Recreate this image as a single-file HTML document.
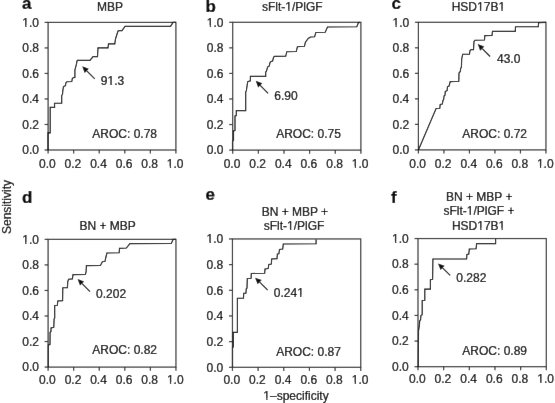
<!DOCTYPE html>
<html><head><meta charset="utf-8"><style>
html,body{margin:0;padding:0;background:#fff;}
svg{display:block;}
#w{width:555px;height:403px;}
text{font-family:"Liberation Sans",sans-serif;fill:#000;stroke:#000;stroke-width:0.22px;}
</style></head><body>
<div id="w"><svg width="555" height="403" viewBox="0 0 555 403">
<defs><filter id="bl" x="0" y="0" width="555" height="403" filterUnits="userSpaceOnUse"><feConvolveMatrix order="3" kernelMatrix="0.00163 0.03713 0.00163 0.03713 0.84497 0.03713 0.00163 0.03713 0.00163" divisor="1" edgeMode="duplicate" preserveAlpha="true"/></filter></defs>
<g filter="url(#bl)">
<rect x="0" y="0" width="555" height="403" fill="#fff"/>
<rect x="48.1" y="22.4" width="127.80" height="127.60" fill="none" stroke="#333" stroke-width="1.2"/>
<line x1="44.6" y1="150.0" x2="48.1" y2="150.0" stroke="#333" stroke-width="1.2"/>
<line x1="48.1" y1="150.0" x2="48.1" y2="153.6" stroke="#333" stroke-width="1.2"/>
<text x="38.900000000000006" y="154.3" font-size="12" text-anchor="end" font-weight="normal" >0.0</text>
<text x="47.4" y="167.6" font-size="12" text-anchor="middle" font-weight="normal" >0.0</text>
<line x1="44.6" y1="124.48" x2="48.1" y2="124.48" stroke="#333" stroke-width="1.2"/>
<line x1="73.66" y1="150.0" x2="73.66" y2="153.6" stroke="#333" stroke-width="1.2"/>
<text x="38.900000000000006" y="128.78" font-size="12" text-anchor="end" font-weight="normal" >0.2</text>
<text x="72.96" y="167.6" font-size="12" text-anchor="middle" font-weight="normal" >0.2</text>
<line x1="44.6" y1="98.96000000000001" x2="48.1" y2="98.96000000000001" stroke="#333" stroke-width="1.2"/>
<line x1="99.22" y1="150.0" x2="99.22" y2="153.6" stroke="#333" stroke-width="1.2"/>
<text x="38.900000000000006" y="103.26" font-size="12" text-anchor="end" font-weight="normal" >0.4</text>
<text x="98.52" y="167.6" font-size="12" text-anchor="middle" font-weight="normal" >0.4</text>
<line x1="44.6" y1="73.44000000000001" x2="48.1" y2="73.44000000000001" stroke="#333" stroke-width="1.2"/>
<line x1="124.78" y1="150.0" x2="124.78" y2="153.6" stroke="#333" stroke-width="1.2"/>
<text x="38.900000000000006" y="77.74000000000001" font-size="12" text-anchor="end" font-weight="normal" >0.6</text>
<text x="124.08" y="167.6" font-size="12" text-anchor="middle" font-weight="normal" >0.6</text>
<line x1="44.6" y1="47.92" x2="48.1" y2="47.92" stroke="#333" stroke-width="1.2"/>
<line x1="150.34" y1="150.0" x2="150.34" y2="153.6" stroke="#333" stroke-width="1.2"/>
<text x="38.900000000000006" y="52.22" font-size="12" text-anchor="end" font-weight="normal" >0.8</text>
<text x="149.64000000000001" y="167.6" font-size="12" text-anchor="middle" font-weight="normal" >0.8</text>
<line x1="44.6" y1="22.400000000000006" x2="48.1" y2="22.400000000000006" stroke="#333" stroke-width="1.2"/>
<line x1="175.9" y1="150.0" x2="175.9" y2="153.6" stroke="#333" stroke-width="1.2"/>
<text x="38.900000000000006" y="26.700000000000006" font-size="12" text-anchor="end" font-weight="normal" >1.0</text>
<text x="175.20000000000002" y="167.6" font-size="12" text-anchor="middle" font-weight="normal" >1.0</text>
<rect x="232.7" y="22.3" width="128.20" height="127.80" fill="none" stroke="#333" stroke-width="1.2"/>
<line x1="229.2" y1="150.1" x2="232.7" y2="150.1" stroke="#333" stroke-width="1.2"/>
<line x1="232.7" y1="150.1" x2="232.7" y2="153.7" stroke="#333" stroke-width="1.2"/>
<text x="223.5" y="154.4" font-size="12" text-anchor="end" font-weight="normal" >0.0</text>
<text x="232.0" y="167.7" font-size="12" text-anchor="middle" font-weight="normal" >0.0</text>
<line x1="229.2" y1="124.53999999999999" x2="232.7" y2="124.53999999999999" stroke="#333" stroke-width="1.2"/>
<line x1="258.34" y1="150.1" x2="258.34" y2="153.7" stroke="#333" stroke-width="1.2"/>
<text x="223.5" y="128.84" font-size="12" text-anchor="end" font-weight="normal" >0.2</text>
<text x="257.64" y="167.7" font-size="12" text-anchor="middle" font-weight="normal" >0.2</text>
<line x1="229.2" y1="98.97999999999999" x2="232.7" y2="98.97999999999999" stroke="#333" stroke-width="1.2"/>
<line x1="283.98" y1="150.1" x2="283.98" y2="153.7" stroke="#333" stroke-width="1.2"/>
<text x="223.5" y="103.27999999999999" font-size="12" text-anchor="end" font-weight="normal" >0.4</text>
<text x="283.28000000000003" y="167.7" font-size="12" text-anchor="middle" font-weight="normal" >0.4</text>
<line x1="229.2" y1="73.42" x2="232.7" y2="73.42" stroke="#333" stroke-width="1.2"/>
<line x1="309.62" y1="150.1" x2="309.62" y2="153.7" stroke="#333" stroke-width="1.2"/>
<text x="223.5" y="77.72" font-size="12" text-anchor="end" font-weight="normal" >0.6</text>
<text x="308.92" y="167.7" font-size="12" text-anchor="middle" font-weight="normal" >0.6</text>
<line x1="229.2" y1="47.859999999999985" x2="232.7" y2="47.859999999999985" stroke="#333" stroke-width="1.2"/>
<line x1="335.26" y1="150.1" x2="335.26" y2="153.7" stroke="#333" stroke-width="1.2"/>
<text x="223.5" y="52.15999999999998" font-size="12" text-anchor="end" font-weight="normal" >0.8</text>
<text x="334.56" y="167.7" font-size="12" text-anchor="middle" font-weight="normal" >0.8</text>
<line x1="229.2" y1="22.299999999999997" x2="232.7" y2="22.299999999999997" stroke="#333" stroke-width="1.2"/>
<line x1="360.9" y1="150.1" x2="360.9" y2="153.7" stroke="#333" stroke-width="1.2"/>
<text x="223.5" y="26.599999999999998" font-size="12" text-anchor="end" font-weight="normal" >1.0</text>
<text x="360.2" y="167.7" font-size="12" text-anchor="middle" font-weight="normal" >1.0</text>
<rect x="418.4" y="22.3" width="127.55" height="127.60" fill="none" stroke="#333" stroke-width="1.2"/>
<line x1="414.9" y1="149.9" x2="418.4" y2="149.9" stroke="#333" stroke-width="1.2"/>
<line x1="418.4" y1="149.9" x2="418.4" y2="153.5" stroke="#333" stroke-width="1.2"/>
<text x="409.2" y="154.20000000000002" font-size="12" text-anchor="end" font-weight="normal" >0.0</text>
<text x="417.7" y="167.5" font-size="12" text-anchor="middle" font-weight="normal" >0.0</text>
<line x1="414.9" y1="124.38" x2="418.4" y2="124.38" stroke="#333" stroke-width="1.2"/>
<line x1="443.90999999999997" y1="149.9" x2="443.90999999999997" y2="153.5" stroke="#333" stroke-width="1.2"/>
<text x="409.2" y="128.68" font-size="12" text-anchor="end" font-weight="normal" >0.2</text>
<text x="443.21" y="167.5" font-size="12" text-anchor="middle" font-weight="normal" >0.2</text>
<line x1="414.9" y1="98.86" x2="418.4" y2="98.86" stroke="#333" stroke-width="1.2"/>
<line x1="469.42" y1="149.9" x2="469.42" y2="153.5" stroke="#333" stroke-width="1.2"/>
<text x="409.2" y="103.16" font-size="12" text-anchor="end" font-weight="normal" >0.4</text>
<text x="468.72" y="167.5" font-size="12" text-anchor="middle" font-weight="normal" >0.4</text>
<line x1="414.9" y1="73.34" x2="418.4" y2="73.34" stroke="#333" stroke-width="1.2"/>
<line x1="494.93" y1="149.9" x2="494.93" y2="153.5" stroke="#333" stroke-width="1.2"/>
<text x="409.2" y="77.64" font-size="12" text-anchor="end" font-weight="normal" >0.6</text>
<text x="494.23" y="167.5" font-size="12" text-anchor="middle" font-weight="normal" >0.6</text>
<line x1="414.9" y1="47.81999999999999" x2="418.4" y2="47.81999999999999" stroke="#333" stroke-width="1.2"/>
<line x1="520.44" y1="149.9" x2="520.44" y2="153.5" stroke="#333" stroke-width="1.2"/>
<text x="409.2" y="52.11999999999999" font-size="12" text-anchor="end" font-weight="normal" >0.8</text>
<text x="519.74" y="167.5" font-size="12" text-anchor="middle" font-weight="normal" >0.8</text>
<line x1="414.9" y1="22.299999999999997" x2="418.4" y2="22.299999999999997" stroke="#333" stroke-width="1.2"/>
<line x1="545.95" y1="149.9" x2="545.95" y2="153.5" stroke="#333" stroke-width="1.2"/>
<text x="409.2" y="26.599999999999998" font-size="12" text-anchor="end" font-weight="normal" >1.0</text>
<text x="545.25" y="167.5" font-size="12" text-anchor="middle" font-weight="normal" >1.0</text>
<rect x="48.1" y="239.35" width="127.85" height="127.75" fill="none" stroke="#333" stroke-width="1.2"/>
<line x1="44.6" y1="367.1" x2="48.1" y2="367.1" stroke="#333" stroke-width="1.2"/>
<line x1="48.1" y1="367.1" x2="48.1" y2="370.70000000000005" stroke="#333" stroke-width="1.2"/>
<text x="38.900000000000006" y="371.40000000000003" font-size="12" text-anchor="end" font-weight="normal" >0.0</text>
<text x="47.4" y="383.5" font-size="12" text-anchor="middle" font-weight="normal" >0.0</text>
<line x1="44.6" y1="341.55" x2="48.1" y2="341.55" stroke="#333" stroke-width="1.2"/>
<line x1="73.67" y1="367.1" x2="73.67" y2="370.70000000000005" stroke="#333" stroke-width="1.2"/>
<text x="38.900000000000006" y="345.85" font-size="12" text-anchor="end" font-weight="normal" >0.2</text>
<text x="72.97" y="383.5" font-size="12" text-anchor="middle" font-weight="normal" >0.2</text>
<line x1="44.6" y1="316.0" x2="48.1" y2="316.0" stroke="#333" stroke-width="1.2"/>
<line x1="99.24000000000001" y1="367.1" x2="99.24000000000001" y2="370.70000000000005" stroke="#333" stroke-width="1.2"/>
<text x="38.900000000000006" y="320.3" font-size="12" text-anchor="end" font-weight="normal" >0.4</text>
<text x="98.54" y="383.5" font-size="12" text-anchor="middle" font-weight="normal" >0.4</text>
<line x1="44.6" y1="290.45" x2="48.1" y2="290.45" stroke="#333" stroke-width="1.2"/>
<line x1="124.81" y1="367.1" x2="124.81" y2="370.70000000000005" stroke="#333" stroke-width="1.2"/>
<text x="38.900000000000006" y="294.75" font-size="12" text-anchor="end" font-weight="normal" >0.6</text>
<text x="124.11" y="383.5" font-size="12" text-anchor="middle" font-weight="normal" >0.6</text>
<line x1="44.6" y1="264.9" x2="48.1" y2="264.9" stroke="#333" stroke-width="1.2"/>
<line x1="150.38" y1="367.1" x2="150.38" y2="370.70000000000005" stroke="#333" stroke-width="1.2"/>
<text x="38.900000000000006" y="269.2" font-size="12" text-anchor="end" font-weight="normal" >0.8</text>
<text x="149.68" y="383.5" font-size="12" text-anchor="middle" font-weight="normal" >0.8</text>
<line x1="44.6" y1="239.35" x2="48.1" y2="239.35" stroke="#333" stroke-width="1.2"/>
<line x1="175.95" y1="367.1" x2="175.95" y2="370.70000000000005" stroke="#333" stroke-width="1.2"/>
<text x="38.900000000000006" y="243.65" font-size="12" text-anchor="end" font-weight="normal" >1.0</text>
<text x="175.25" y="383.5" font-size="12" text-anchor="middle" font-weight="normal" >1.0</text>
<rect x="232.45" y="238.95" width="128.30" height="128.35" fill="none" stroke="#333" stroke-width="1.2"/>
<line x1="228.95" y1="367.3" x2="232.45" y2="367.3" stroke="#333" stroke-width="1.2"/>
<line x1="232.45" y1="367.3" x2="232.45" y2="370.90000000000003" stroke="#333" stroke-width="1.2"/>
<text x="223.25" y="371.6" font-size="12" text-anchor="end" font-weight="normal" >0.0</text>
<text x="231.75" y="383.7" font-size="12" text-anchor="middle" font-weight="normal" >0.0</text>
<line x1="228.95" y1="341.63" x2="232.45" y2="341.63" stroke="#333" stroke-width="1.2"/>
<line x1="258.11" y1="367.3" x2="258.11" y2="370.90000000000003" stroke="#333" stroke-width="1.2"/>
<text x="223.25" y="345.93" font-size="12" text-anchor="end" font-weight="normal" >0.2</text>
<text x="257.41" y="383.7" font-size="12" text-anchor="middle" font-weight="normal" >0.2</text>
<line x1="228.95" y1="315.96" x2="232.45" y2="315.96" stroke="#333" stroke-width="1.2"/>
<line x1="283.77" y1="367.3" x2="283.77" y2="370.90000000000003" stroke="#333" stroke-width="1.2"/>
<text x="223.25" y="320.26" font-size="12" text-anchor="end" font-weight="normal" >0.4</text>
<text x="283.07" y="383.7" font-size="12" text-anchor="middle" font-weight="normal" >0.4</text>
<line x1="228.95" y1="290.29" x2="232.45" y2="290.29" stroke="#333" stroke-width="1.2"/>
<line x1="309.43" y1="367.3" x2="309.43" y2="370.90000000000003" stroke="#333" stroke-width="1.2"/>
<text x="223.25" y="294.59000000000003" font-size="12" text-anchor="end" font-weight="normal" >0.6</text>
<text x="308.73" y="383.7" font-size="12" text-anchor="middle" font-weight="normal" >0.6</text>
<line x1="228.95" y1="264.62" x2="232.45" y2="264.62" stroke="#333" stroke-width="1.2"/>
<line x1="335.09000000000003" y1="367.3" x2="335.09000000000003" y2="370.90000000000003" stroke="#333" stroke-width="1.2"/>
<text x="223.25" y="268.92" font-size="12" text-anchor="end" font-weight="normal" >0.8</text>
<text x="334.39000000000004" y="383.7" font-size="12" text-anchor="middle" font-weight="normal" >0.8</text>
<line x1="228.95" y1="238.95" x2="232.45" y2="238.95" stroke="#333" stroke-width="1.2"/>
<line x1="360.75" y1="367.3" x2="360.75" y2="370.90000000000003" stroke="#333" stroke-width="1.2"/>
<text x="223.25" y="243.25" font-size="12" text-anchor="end" font-weight="normal" >1.0</text>
<text x="360.05" y="383.7" font-size="12" text-anchor="middle" font-weight="normal" >1.0</text>
<rect x="418.0" y="238.55" width="128.30" height="128.15" fill="none" stroke="#333" stroke-width="1.2"/>
<line x1="414.5" y1="366.7" x2="418.0" y2="366.7" stroke="#333" stroke-width="1.2"/>
<line x1="418.0" y1="366.7" x2="418.0" y2="370.3" stroke="#333" stroke-width="1.2"/>
<text x="408.8" y="371.0" font-size="12" text-anchor="end" font-weight="normal" >0.0</text>
<text x="417.3" y="383.09999999999997" font-size="12" text-anchor="middle" font-weight="normal" >0.0</text>
<line x1="414.5" y1="341.07" x2="418.0" y2="341.07" stroke="#333" stroke-width="1.2"/>
<line x1="443.65999999999997" y1="366.7" x2="443.65999999999997" y2="370.3" stroke="#333" stroke-width="1.2"/>
<text x="408.8" y="345.37" font-size="12" text-anchor="end" font-weight="normal" >0.2</text>
<text x="442.96" y="383.09999999999997" font-size="12" text-anchor="middle" font-weight="normal" >0.2</text>
<line x1="414.5" y1="315.44" x2="418.0" y2="315.44" stroke="#333" stroke-width="1.2"/>
<line x1="469.32" y1="366.7" x2="469.32" y2="370.3" stroke="#333" stroke-width="1.2"/>
<text x="408.8" y="319.74" font-size="12" text-anchor="end" font-weight="normal" >0.4</text>
<text x="468.62" y="383.09999999999997" font-size="12" text-anchor="middle" font-weight="normal" >0.4</text>
<line x1="414.5" y1="289.81" x2="418.0" y2="289.81" stroke="#333" stroke-width="1.2"/>
<line x1="494.97999999999996" y1="366.7" x2="494.97999999999996" y2="370.3" stroke="#333" stroke-width="1.2"/>
<text x="408.8" y="294.11" font-size="12" text-anchor="end" font-weight="normal" >0.6</text>
<text x="494.28" y="383.09999999999997" font-size="12" text-anchor="middle" font-weight="normal" >0.6</text>
<line x1="414.5" y1="264.18" x2="418.0" y2="264.18" stroke="#333" stroke-width="1.2"/>
<line x1="520.64" y1="366.7" x2="520.64" y2="370.3" stroke="#333" stroke-width="1.2"/>
<text x="408.8" y="268.48" font-size="12" text-anchor="end" font-weight="normal" >0.8</text>
<text x="519.9399999999999" y="383.09999999999997" font-size="12" text-anchor="middle" font-weight="normal" >0.8</text>
<line x1="414.5" y1="238.55" x2="418.0" y2="238.55" stroke="#333" stroke-width="1.2"/>
<line x1="546.3" y1="366.7" x2="546.3" y2="370.3" stroke="#333" stroke-width="1.2"/>
<text x="408.8" y="242.85000000000002" font-size="12" text-anchor="end" font-weight="normal" >1.0</text>
<text x="545.5999999999999" y="383.09999999999997" font-size="12" text-anchor="middle" font-weight="normal" >1.0</text>
<polyline points="48,150 48,132.9 50.2,132.9 50.2,107.4 54.6,107.4 54.5,103.2 61.7,103.2 61.7,95.4 62.5,94.4 62.8,91 63.4,87 64.3,86 65.4,85.8 66,82.5 66.8,81.7 71.8,81.5 72.3,78.5 73.3,77.6 74.9,77.5 74.9,69.8 75.2,68.8 76.4,64.3 76.9,61.3 77.4,60.4 90,60.4 93,56.6 97.5,56.6 98,47.8 108,47.8 108.5,43.8 114.8,43.8 115.5,39 118,31 119.5,30.6 122,30.6 125,26.4 170.6,26.4 173,22.4 176,22.4" fill="none" stroke="#000" stroke-width="1.15" stroke-linejoin="miter"/>
<polyline points="232.5,150 232.5,141 233.5,140.5 233.5,131 235,130.5 235,116 236.3,115.5 236.3,110.6 245.7,110.6 245.7,91.7 246.3,91 247.7,81.6 250.4,80.9 250.4,76.4 265.7,76.4 265.7,72 266.4,71.2 267.5,67.5 268.1,66.5 269.1,66.2 270.1,62.3 271,61.5 272.6,61 273.6,57.2 274.6,56.4 285.7,56.3 286.8,51.7 296.3,51.5 297.4,46.7 304.5,46.3 305.3,42.5 308.2,38.4 310.5,37 314.6,36.8 315.8,32.5 325.2,32.3 327.5,27 356.8,26.7 358.5,22.6 360,22.4" fill="none" stroke="#000" stroke-width="1.15" stroke-linejoin="miter"/>
<polyline points="418.4,150 436.1,108.5 439.8,108.2 440.2,104.4 442.3,104 443,100.3 443.6,99.8 444.1,95.8 445,95.2 445.3,91.4 447.1,90.7 447.5,86.6 449.1,86 450.2,81.6 458.8,81.3 459,73 460.3,71.5 460.7,68.2 461.4,67.5 461.7,59 462.7,54.2 469.5,54.1 470,50.5 471.1,49.6 473.5,49.6 474,41.5 474.9,40.2 484.5,40 484.8,35.6 492,35.4 492.5,31.3 515.3,31.3 515.5,26.7 538.3,26.6 538.6,22.6 546,22.4" fill="none" stroke="#000" stroke-width="1.15" stroke-linejoin="miter"/>
<polyline points="48.3,367 48.3,345 50,344.5 50.1,332.3 51,331.4 51,328 53.8,327.2 54.1,319 54.7,318 54.7,305.5 57.4,305.2 57.7,301 62.6,300.6 62.8,287.7 67.4,287.6 67.8,281.4 68.6,279.2 72.4,278.9 73,274.6 85.4,274.4 86.1,271.7 86.4,265.6 100.4,265.5 102.4,261.8 105,261.3 105.7,258 106.9,253 119.2,252.7 119.5,248.4 126.4,248 129.9,243.6 171.3,243.4 173.1,239.4 176,239.4" fill="none" stroke="#000" stroke-width="1.15" stroke-linejoin="miter"/>
<polyline points="232.5,367 232.5,347.3 233.3,347 233.3,332.4 237.4,332.4 237.4,298.2 243.5,298.2 243.7,293.3 245.9,293.2 246.3,288.6 247,288.2 247.3,278.5 251.1,278.3 251.3,273.5 264.7,273.3 265,269 268.2,268.5 268.8,264.4 271.4,264 271.6,259 277,258.6 277.4,254 278.9,253.8 279.5,249.5 282.7,249 283.3,244 316.1,243.8 316.1,239.4" fill="none" stroke="#000" stroke-width="1.15" stroke-linejoin="miter"/>
<polyline points="418.3,367 418.5,331 419.3,326 419.7,321 420.6,319.7 420.9,315.5 422.2,314.7 422.2,300.5 424.8,300.2 424.8,289.1 430.4,289.1 430.4,279.7 432.6,279.3 432.9,259 466.6,259 466.9,254.5 468.8,254 469.3,249 476.1,248.7 476.6,243.6 495.6,243.6 495.6,239" fill="none" stroke="#000" stroke-width="1.15" stroke-linejoin="miter"/>
<line x1="86.72548339959391" y1="70.8254833995939" x2="94.8" y2="78.9" stroke="#111" stroke-width="1.2"/>
<polygon points="82.2,66.3 84.67487373415292,72.8760930650349 88.7760930650349,68.77487373415292" fill="#111"/>
<line x1="260.20727241922873" y1="85.34362139035153" x2="268.1" y2="93.3" stroke="#111" stroke-width="1.2"/>
<polygon points="255.7,80.8 258.1484439767257,87.38597920531456 262.2661008617318,83.3012635753885" fill="#111"/>
<line x1="482.2254833995939" y1="48.6254833995939" x2="490.1" y2="56.5" stroke="#111" stroke-width="1.2"/>
<polygon points="477.7,44.1 480.1748737341529,50.67609306503489 484.27609306503484,46.5748737341529" fill="#111"/>
<line x1="82.08913588234728" y1="283.5615412998045" x2="90" y2="291.6" stroke="#111" stroke-width="1.2"/>
<polygon points="77.6,279 80.02218748087337,285.5956809964931 84.15608428382119,281.5274016031159" fill="#111"/>
<line x1="259.66154129980447" y1="282.1891358823473" x2="267.7" y2="290.1" stroke="#111" stroke-width="1.2"/>
<polygon points="255.1,277.7 257.62740160311586,284.25608428382117 261.6956809964931,280.1221874808734" fill="#111"/>
<line x1="442.5627282712672" y1="267.88792944714805" x2="450.2" y2="275.4" stroke="#111" stroke-width="1.2"/>
<polygon points="438,263.4 440.5291352405282,269.955415695066 444.5963213020062,265.8204431992301" fill="#111"/>
<text x="100.8" y="85.3" font-size="12" text-anchor="start" font-weight="normal" >91.3</text>
<text x="274.3" y="100.0" font-size="12" text-anchor="start" font-weight="normal" >6.90</text>
<text x="497.0" y="63.0" font-size="12" text-anchor="start" font-weight="normal" >43.0</text>
<text x="96.1" y="297.8" font-size="12" text-anchor="start" font-weight="normal" >0.202</text>
<text x="273.8" y="296.8" font-size="12" text-anchor="start" font-weight="normal" >0.241</text>
<text x="456.3" y="282.3" font-size="12" text-anchor="start" font-weight="normal" >0.282</text>
<text x="92.3" y="137.79999999999998" font-size="12" text-anchor="start" font-weight="normal" >AROC: 0.78</text>
<text x="276.2" y="138.2" font-size="12" text-anchor="start" font-weight="normal" >AROC: 0.75</text>
<text x="462.3" y="137.5" font-size="12" text-anchor="start" font-weight="normal" >AROC: 0.72</text>
<text x="92.3" y="354.0" font-size="12" text-anchor="start" font-weight="normal" >AROC: 0.82</text>
<text x="276.2" y="355.8" font-size="12" text-anchor="start" font-weight="normal" >AROC: 0.87</text>
<text x="462.3" y="355.3" font-size="12" text-anchor="start" font-weight="normal" >AROC: 0.89</text>
<text x="110" y="10.8" font-size="12" text-anchor="middle" font-weight="normal" >MBP</text>
<text x="292.3" y="10.8" font-size="12" text-anchor="middle" font-weight="normal" >sFlt-1/PlGF</text>
<text x="478.4" y="10.8" font-size="12" text-anchor="middle" font-weight="normal" >HSD17B1</text>
<text x="107.7" y="230.29999999999998" font-size="12" text-anchor="middle" font-weight="normal" >BN + MBP</text>
<text x="294.9" y="215.7" font-size="12" text-anchor="middle" font-weight="normal" >BN + MBP +</text>
<text x="294.1" y="230.1" font-size="12" text-anchor="middle" font-weight="normal" >sFlt-1/PlGF</text>
<text x="479.2" y="200.79999999999998" font-size="12" text-anchor="middle" font-weight="normal" >BN + MBP +</text>
<text x="478.9" y="215.2" font-size="12" text-anchor="middle" font-weight="normal" >sFlt-1/PlGF +</text>
<text x="478.6" y="229.6" font-size="12" text-anchor="middle" font-weight="normal" >HSD17B1</text>
<text x="22.0" y="9.0" font-size="17" text-anchor="start" font-weight="bold" >a</text>
<text x="205.5" y="11.7" font-size="17" text-anchor="start" font-weight="bold" >b</text>
<text x="391.6" y="9.3" font-size="17" text-anchor="start" font-weight="bold" >c</text>
<text x="22.0" y="203.1" font-size="17" text-anchor="start" font-weight="bold" >d</text>
<text x="205.5" y="200.4" font-size="17" text-anchor="start" font-weight="bold" >e</text>
<text x="391.0" y="203.1" font-size="17" text-anchor="start" font-weight="bold" >f</text>
<text x="10.7" y="234" font-size="12" text-anchor="start" font-weight="normal" transform="rotate(-90 10.7 234)">Sensitivity</text>
<text x="296" y="399.5" font-size="12" text-anchor="middle" font-weight="normal" >1&#8211;specificity</text>
<rect x="22.08" y="25.45" width="3.15" height="2.00" fill="#fff"/>
<rect x="26.42" y="25.45" width="2.51" height="2.00" fill="#fff"/>
<rect x="166.73" y="166.35" width="3.15" height="2.00" fill="#fff"/>
<rect x="171.06" y="166.35" width="2.51" height="2.00" fill="#fff"/>
<rect x="206.68" y="25.35" width="3.15" height="2.00" fill="#fff"/>
<rect x="211.02" y="25.35" width="2.51" height="2.00" fill="#fff"/>
<rect x="351.73" y="166.45" width="3.15" height="2.00" fill="#fff"/>
<rect x="356.06" y="166.45" width="2.51" height="2.00" fill="#fff"/>
<rect x="392.38" y="25.35" width="3.15" height="2.00" fill="#fff"/>
<rect x="396.72" y="25.35" width="2.51" height="2.00" fill="#fff"/>
<rect x="536.78" y="166.25" width="3.15" height="2.00" fill="#fff"/>
<rect x="541.11" y="166.25" width="2.51" height="2.00" fill="#fff"/>
<rect x="22.08" y="242.40" width="3.15" height="2.00" fill="#fff"/>
<rect x="26.42" y="242.40" width="2.51" height="2.00" fill="#fff"/>
<rect x="166.78" y="382.25" width="3.15" height="2.00" fill="#fff"/>
<rect x="171.11" y="382.25" width="2.51" height="2.00" fill="#fff"/>
<rect x="206.43" y="242.00" width="3.15" height="2.00" fill="#fff"/>
<rect x="210.77" y="242.00" width="2.51" height="2.00" fill="#fff"/>
<rect x="351.58" y="382.45" width="3.15" height="2.00" fill="#fff"/>
<rect x="355.91" y="382.45" width="2.51" height="2.00" fill="#fff"/>
<rect x="391.98" y="241.60" width="3.15" height="2.00" fill="#fff"/>
<rect x="396.32" y="241.60" width="2.51" height="2.00" fill="#fff"/>
<rect x="537.13" y="381.85" width="3.15" height="2.00" fill="#fff"/>
<rect x="541.46" y="381.85" width="2.51" height="2.00" fill="#fff"/>
<rect x="107.34" y="84.05" width="3.15" height="2.00" fill="#fff"/>
<rect x="111.68" y="84.05" width="2.51" height="2.00" fill="#fff"/>
<rect x="297.01" y="295.55" width="3.15" height="2.00" fill="#fff"/>
<rect x="301.35" y="295.55" width="2.51" height="2.00" fill="#fff"/>
<rect x="285.15" y="9.55" width="3.15" height="2.00" fill="#fff"/>
<rect x="289.48" y="9.55" width="2.51" height="2.00" fill="#fff"/>
<rect x="476.91" y="9.55" width="3.15" height="2.00" fill="#fff"/>
<rect x="481.25" y="9.55" width="2.51" height="2.00" fill="#fff"/>
<rect x="498.27" y="9.55" width="3.15" height="2.00" fill="#fff"/>
<rect x="502.61" y="9.55" width="2.51" height="2.00" fill="#fff"/>
<rect x="286.95" y="228.85" width="3.15" height="2.00" fill="#fff"/>
<rect x="291.28" y="228.85" width="2.51" height="2.00" fill="#fff"/>
<rect x="466.57" y="213.95" width="3.15" height="2.00" fill="#fff"/>
<rect x="470.91" y="213.95" width="2.51" height="2.00" fill="#fff"/>
<rect x="477.11" y="228.35" width="3.15" height="2.00" fill="#fff"/>
<rect x="481.45" y="228.35" width="2.51" height="2.00" fill="#fff"/>
<rect x="498.47" y="228.35" width="3.15" height="2.00" fill="#fff"/>
<rect x="502.81" y="228.35" width="2.51" height="2.00" fill="#fff"/>
<rect x="263.18" y="398.25" width="3.15" height="2.00" fill="#fff"/>
<rect x="267.52" y="398.25" width="2.51" height="2.00" fill="#fff"/>
</g>
</svg></div>
</body></html>
